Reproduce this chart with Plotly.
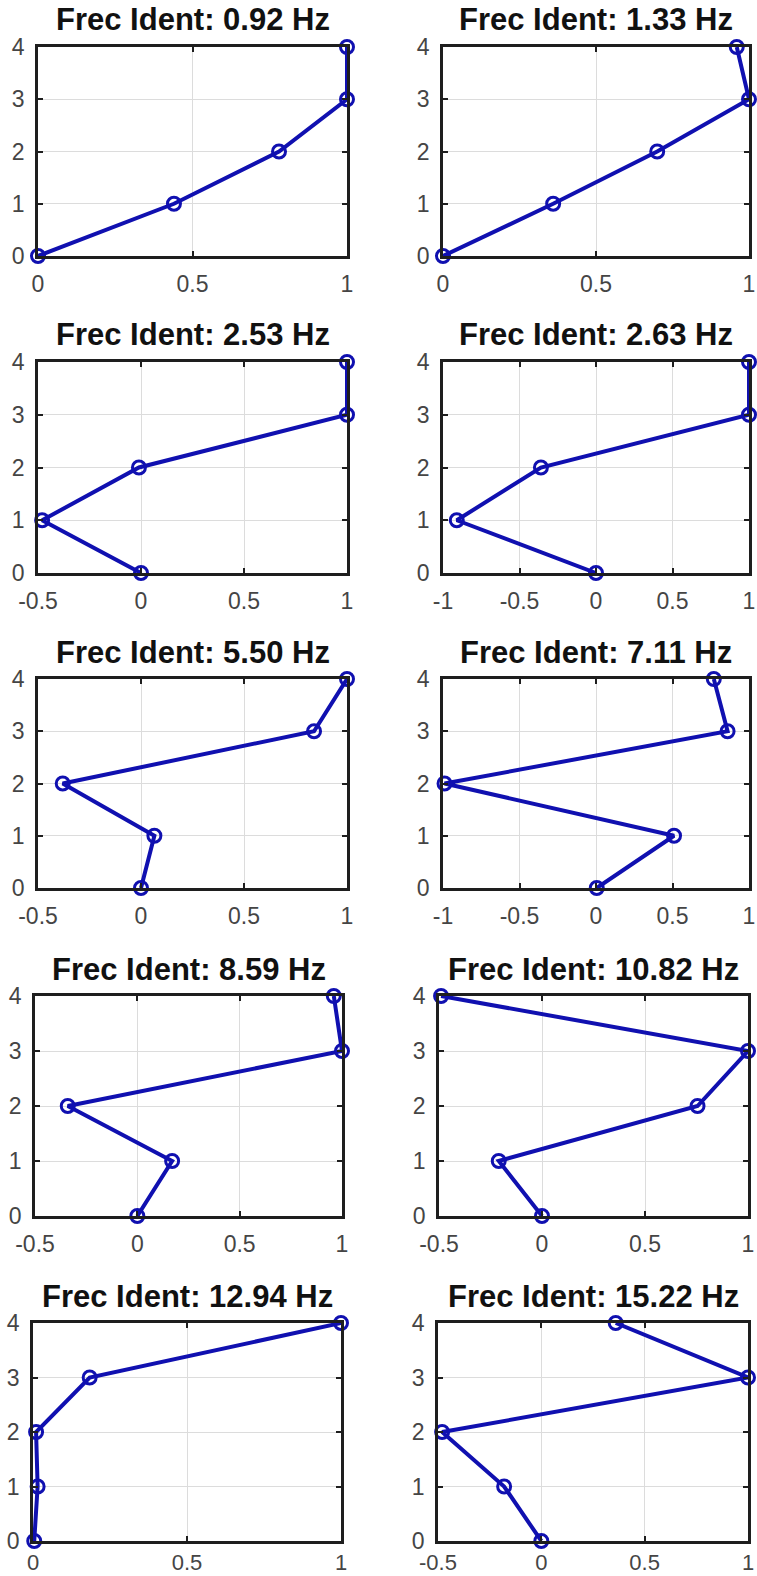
import plotly.graph_objects as go

# ---------------- data ----------------
floors = [0, 1, 2, 3, 4]
freqs_hz = [0.92, 1.33, 2.53, 2.63, 5.50, 7.11, 8.59, 10.82, 12.94, 15.22]

mode_1 = [0.0, 0.44, 0.78, 1.0, 1.0]
mode_2 = [0.0, 0.36, 0.70, 1.0, 0.96]
mode_3 = [0.0, -0.48, -0.01, 1.0, 1.0]
mode_4 = [0.0, -0.91, -0.36, 1.0, 1.0]
mode_5 = [0.0, 0.065, -0.38, 0.84, 1.0]
mode_6 = [0.005, 0.51, -0.99, 0.86, 0.77]
mode_7 = [0.0, 0.17, -0.34, 1.0, 0.96]
mode_8 = [0.0, -0.21, 0.755, 1.0, -0.49]
mode_9 = [0.004, 0.015, 0.01, 0.184, 1.0]
mode_10 = [0.0, -0.18, -0.48, 1.0, 0.36]
modes = [mode_1, mode_2, mode_3, mode_4, mode_5,
         mode_6, mode_7, mode_8, mode_9, mode_10]

x_ticks_a = [0, 0.5, 1]
x_ticks_b = [-0.5, 0, 0.5, 1]
x_ticks_c = [-1, -0.5, 0, 0.5, 1]
x_tick_sets = [x_ticks_a, x_ticks_a, x_ticks_b, x_ticks_c, x_ticks_b,
               x_ticks_c, x_ticks_b, x_ticks_b, x_ticks_a, x_ticks_b]
y_ticks = [0, 1, 2, 3, 4]

# ---------------- layout (pixel boxes: left, right, top, bottom) ----------------
W, H = 757, 1576
boxes = [
    (38, 347, 47, 256), (443, 749, 47, 256),
    (38, 347, 362, 573), (443, 749, 362, 573),
    (38, 347, 679, 888), (443, 749, 679, 888),
    (35, 342, 996, 1216), (439, 748, 996, 1216),
    (33, 341, 1323, 1541), (438, 748, 1323, 1541),
]

LINE_COLOR = "#1010b0"
FONT = "Liberation Sans, Arial, sans-serif"


def fmt(v):
    if v == int(v):
        return str(int(v))
    return ("%g" % v)


fig = go.Figure()
annotations = []
for i, (xs, ticks, f, box) in enumerate(zip(modes, x_tick_sets, freqs_hz, boxes)):
    n = i + 1
    xa = "x" if n == 1 else f"x{n}"
    ya = "y" if n == 1 else f"y{n}"
    fig.add_trace(go.Scatter(
        x=xs, y=floors, mode="lines+markers",
        line=dict(color=LINE_COLOR, width=4),
        marker=dict(symbol="circle-open", size=13, color=LINE_COLOR,
                    line=dict(width=3, color=LINE_COLOR)),
        cliponaxis=False, showlegend=False,
        xaxis=xa, yaxis=ya,
    ))
    l, r, t, b = box
    axis_common = dict(
        showgrid=True, gridcolor="#dcdcdc", gridwidth=1.2,
        zeroline=False, showline=True, linecolor="#1e1e1e", linewidth=2.5,
        mirror="ticks", ticks="inside", ticklen=5, tickwidth=1.5,
        tickcolor="#1e1e1e", automargin=False,
    )
    bottom_row = n >= 9
    fig.layout[f"xaxis{'' if n == 1 else n}"] = dict(
        domain=[l / W, r / W], range=[ticks[0], ticks[-1]],
        tickmode="array", tickvals=ticks, ticktext=[fmt(v) for v in ticks],
        tickfont=dict(family=FONT, size=22 if bottom_row else 23, color="#454545"),
        ticklabelstandoff=0 if bottom_row else 6,
        anchor=ya, **axis_common)
    fig.layout[f"yaxis{'' if n == 1 else n}"] = dict(
        domain=[1 - b / H, 1 - t / H], range=[y_ticks[0], y_ticks[-1]],
        tickmode="array", tickvals=y_ticks, ticktext=[fmt(v) for v in y_ticks],
        tickfont=dict(family=FONT, size=23, color="#454545"),
        ticklabelstandoff=6,
        anchor=xa, **axis_common)
    annotations.append(dict(
        text=f"<b>Frec Ident: {f:.2f} Hz</b>",
        x=(l + r) / 2 / W, y=1 - (t - 27) / H, xref="paper", yref="paper",
        xanchor="center", yanchor="middle", showarrow=False,
        font=dict(family=FONT, size=31, color="#111111"),
    ))

fig.update_layout(
    width=W, height=H, margin=dict(l=0, r=0, t=0, b=0),
    paper_bgcolor="white", plot_bgcolor="white",
    annotations=annotations,
)

fig.write_html("out.html")
